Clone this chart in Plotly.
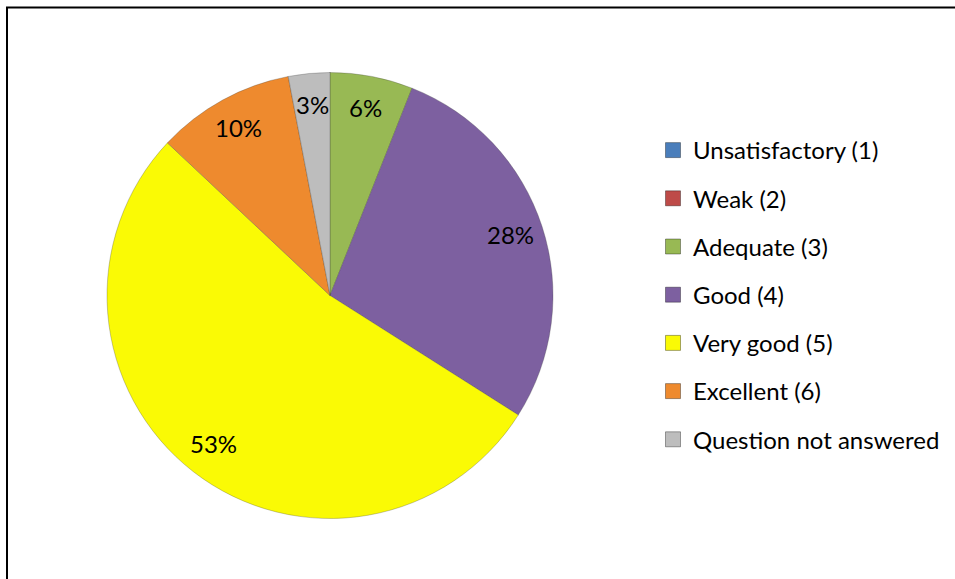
import math
import plotly.graph_objects as go

categories = ["Unsatisfactory (1)", "Weak (2)", "Adequate (3)", "Good (4)",
              "Very good (5)", "Excellent (6)", "Question not answered"]
values = [0, 0, 6, 28, 53, 10, 3]
colors = ["#4A7EBB", "#BE4B48", "#98B954", "#7D60A0", "#FAFA05", "#EE8A2E", "#BDBDBD"]

W, H = 955, 579
cx, cy, r = 330, 295.5, 223
label_frac = 0.85
FONT = "Lato, Calibri, sans-serif"

fig = go.Figure()
fig.add_trace(go.Pie(
    labels=categories, values=values,
    textinfo="none", sort=False, direction="clockwise", rotation=0,
    marker=dict(colors=colors, line=dict(color="rgba(60,60,60,0.35)", width=0.8)),
    domain=dict(x=[(cx - r) / W, (cx + r) / W], y=[1 - (cy + r) / H, 1 - (cy - r) / H]),
    showlegend=False, hoverinfo="label+percent",
))

# percentage labels placed at the mid-angle of each slice
annotations = []
total = sum(values)
cum = 0
for v in values:
    if v > 0:
        mid = (cum + v / 2) / total * 2 * math.pi
        px = cx + label_frac * r * math.sin(mid)
        py = cy - label_frac * r * math.cos(mid)
        annotations.append(dict(
            x=px / W, y=1 - py / H, xref="paper", yref="paper",
            text=f"{round(v / total * 100)}%", showarrow=False,
            xanchor="center", yanchor="middle", yshift=2,
            font=dict(family=FONT, size=24, color="black"),
        ))
    cum += v

for cat, col in zip(categories, colors):
    fig.add_trace(go.Scatter(
        x=[None], y=[None], mode="markers", name=cat, legendgroup=cat,
        marker=dict(symbol="square", size=15, color=col,
                    line=dict(color="rgba(0,0,0,0.35)", width=1)),
        showlegend=True,
    ))

fig.update_layout(
    width=W, height=H,
    margin=dict(l=0, r=0, t=0, b=0),
    paper_bgcolor="white", plot_bgcolor="white",
    xaxis=dict(visible=False), yaxis=dict(visible=False),
    legend=dict(x=653 / W, y=1 - 128 / H, xanchor="left", yanchor="top",
                font=dict(family=FONT, size=24, color="black"),
                tracegroupgap=14, itemwidth=30, bgcolor="rgba(0,0,0,0)"),
    annotations=annotations,
    shapes=[
        dict(type="line", xref="paper", yref="paper", x0=6 / W, x1=1, y0=1 - 7.5 / H, y1=1 - 7.5 / H,
             line=dict(color="black", width=2)),
        dict(type="line", xref="paper", yref="paper", x0=7 / W, x1=7 / W, y0=0, y1=1 - 7 / H,
             line=dict(color="black", width=2)),
    ],
)

fig.write_html("out.html", config={"displayModeBar": False},
               post_script="document.body.style.margin='0px';")
